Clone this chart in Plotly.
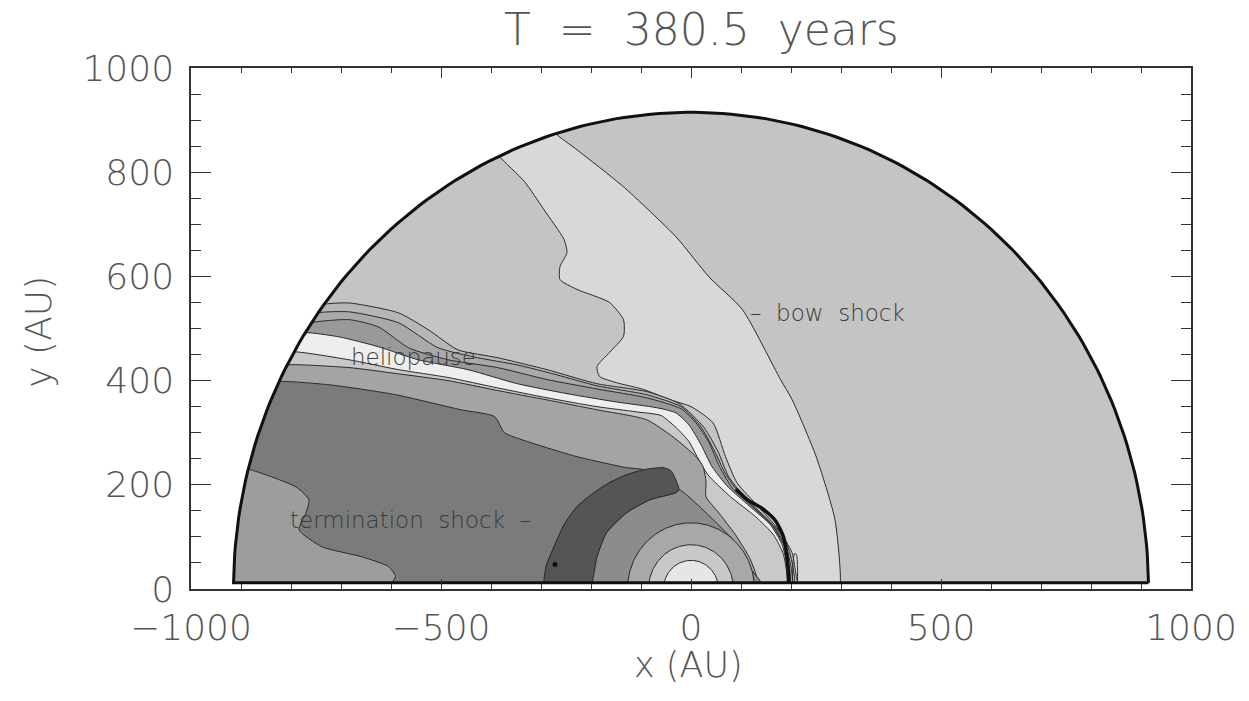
import numpy as np
import plotly.graph_objects as go

# ---------------- data (AU) ----------------
R_OUT = 915          # outer radius of the computational domain
Y_BASE = 12          # lowest grid row

# bow shock (bottom -> top)
bow_x = [298, 288, 250, 202, 179, 103, 36, -30, -135, -228, -268]
bow_y = [Y_BASE, 133, 255, 364, 402, 536, 599, 676, 772, 843, 872]

# wavy contour left of the bow shock, continuing along the outer heliopause edge
wavy_x = [-381, -333, -294, -254, -248, -262, -262, -228, -163, -135, -135, -163, -188, -183, -149, -95, -44,
          0, 44, 69, 92, 135, 175, 202, 214]
wavy_y = [828, 782, 728, 671, 646, 619, 594, 575, 550, 517, 485, 454, 427, 408, 396, 383, 364,
          350, 319, 254, 204, 158, 114, 70, Y_BASE]

# heliopause bundle contours (from outer circle to the bottom row)
c1_x = [-734, -684, -585, -526, -466, -387, -288, -188, -89, -24, 26, 54, 74, 104, 141, 177, 196, 206]
c1_y = [546, 549, 530, 498, 459, 444, 421, 394, 379, 356, 310, 264, 218, 179, 145, 110, 75, Y_BASE]
c2_x = [-746, -684, -585, -506, -427, -347, -268, -188, -89, -20, 20, 46, 69, 96, 133, 169, 191, 202]
c2_y = [530, 532, 511, 463, 444, 430, 411, 390, 373, 350, 311, 267, 221, 185, 150, 116, 79, Y_BASE]
c3_x = [-759, -684, -625, -565, -486, -387, -288, -188, -89, -20, 10, 36, 57, 84, 123, 163, 187, 198]
c3_y = [511, 517, 503, 463, 440, 425, 402, 384, 367, 346, 319, 281, 235, 192, 158, 121, 82, Y_BASE]
c4_x = [-772, -704, -625, -546, -446, -347, -248, -149, -69, -30, -4, 20, 42, 72, 117, 159, 183, 194]
c4_y = [492, 484, 465, 440, 421, 394, 375, 359, 348, 338, 315, 277, 235, 198, 159, 123, 83, Y_BASE]
c5_x = [-794, -684, -585, -486, -387, -288, -188, -109, -60, -30, -4, 10, 34, 79, 129, 165, 185, 191]
c5_y = [455, 440, 421, 406, 386, 367, 350, 340, 333, 310, 283, 258, 219, 177, 139, 104, 66, Y_BASE]
c6_x = [-808, -684, -585, -486, -387, -288, -188, -89, -36, 10, 24, 30, 30, 54, 89, 119, 133]
c6_y = [430, 425, 413, 400, 381, 363, 344, 325, 292, 254, 235, 206, 177, 148, 104, 56, Y_BASE]

# supersonic wind region: top contour then outer edge of the crescent
c7_x = [-824, -724, -591, -460, -393, -373, -327, -228, -129, -95,
        -129, -163, -194, -228, -254, -274, -290, -294]
c7_y = [398, 392, 373, 344, 331, 300, 283, 254, 233, 229,
        219, 204, 185, 158, 123, 81, 43, Y_BASE]

# lighter lobe near the lower-left edge
lobe_x = [-883, -790, -764, -770, -784, -738, -659, -605, -591, -599]
lobe_y = [229, 196, 171, 146, 114, 81, 62, 43, 24, Y_BASE]

# dark crescent (termination shock)
cres_x = [-294, -290, -274, -254, -228, -194, -163, -129, -95, -56, -40, -24, -30, -83, -129, -169, -188, -198]
cres_y = [Y_BASE, 43, 81, 123, 158, 185, 204, 219, 229, 233, 227, 191, 185, 171, 146, 108, 62, Y_BASE]

# region between crescent and the inner rings (with spike)
mid_x = [-198, -188, -169, -129, -83, -30, -24, 83, 55, 100, 140]
mid_y = [Y_BASE, 62, 108, 146, 171, 185, 191, 95, 112, 60, Y_BASE]

# inner concentric rings (radius)
ring_r = [127, 85, 55]

# thick heliopause line
hp_x = [90, 112, 143, 169, 185, 192, 196]
hp_y = [192, 172, 154, 131, 100, 62, Y_BASE]

# small closed contour just outside the heliopause near the axis
loop_x = [203, 204, 207, 211, 213, 213]
loop_y = [Y_BASE, 50, 68, 66, 45, Y_BASE]

# fill levels
col_outer = "#c4c4c4"
col_bow = "#d8d8d8"
band_cols = ["#b6b6b6", "#a9a9a9", "#999999", "#eeeeee", "#c9c9c9", "#a4a4a4"]
col_dark = "#7b7b7b"
col_lobe = "#9d9d9d"
col_mid = "#8c8c8c"
col_cres = "#555555"
ring_cols = ["#a8a8a8", "#c8c8c8", "#e6e6e6"]

LINE = "#2a2a2a"
SMOOTH = 0.6

# ---------------- helpers ----------------
th_left = np.pi - np.arcsin(Y_BASE / R_OUT)
th_right = np.arcsin(Y_BASE / R_OUT)


def arc(r, t0, t1, n=160):
    t = np.linspace(t0, t1, n)
    return list(r * np.cos(t)), list(r * np.sin(t))


def bottom(x0, x1, n=40):
    """straight segment along the bottom grid row (geometry, keeps the spline flat)"""
    xs = list(np.linspace(x0, x1, n))[1:]
    return xs, [Y_BASE] * len(xs)


def edge_region(cx, cy):
    """region bounded by outer circle (left), a contour, and the bottom row"""
    t0 = np.arctan2(cy[0], cx[0])
    ax, ay = arc(R_OUT, th_left, t0)
    bx, by = bottom(cx[-1], ax[0])
    return ax + list(cx[1:]) + bx, ay + list(cy[1:]) + by


def closed(cx, cy):
    bx, by = bottom(cx[-1], cx[0])
    return list(cx) + bx, list(cy) + by


fig = go.Figure()


def add_poly(xs, ys, fill, lw=1.0, smooth=True):
    fig.add_trace(go.Scatter(x=xs, y=ys, mode="lines", fill="toself", fillcolor=fill,
                             line=dict(color=LINE, width=lw, shape="spline" if smooth else "linear",
                                       smoothing=SMOOTH),
                             hoverinfo="skip", showlegend=False))


# domain
ox, oy = arc(R_OUT, th_right, th_left)
add_poly(ox + [ox[0]], oy + [oy[0]], col_outer, smooth=False)

# bow shock region
tb = np.arctan2(bow_y[-1], bow_x[-1])
tw = np.arctan2(wavy_y[0], wavy_x[0])
ax_, ay_ = arc(R_OUT, tb, tw, 30)
bx_, by_ = bottom(wavy_x[-1], bow_x[0], 20)
add_poly(bow_x + ax_ + wavy_x + bx_, bow_y + ay_ + wavy_y + by_, col_bow)

# heliopause bundle & heliosheath
for (cx, cy), col in zip([(c1_x, c1_y), (c2_x, c2_y), (c3_x, c3_y), (c4_x, c4_y), (c5_x, c5_y), (c6_x, c6_y)],
                         band_cols):
    xs, ys = edge_region(cx, cy)
    add_poly(xs, ys, col)

# supersonic region
xs, ys = edge_region(c7_x, c7_y)
add_poly(xs, ys, col_dark)

# lobe
xs, ys = edge_region(lobe_x, lobe_y)
add_poly(xs, ys, col_lobe)

# region inside the crescent
xs, ys = closed(mid_x, mid_y)
add_poly(xs, ys, col_mid)

# crescent
xs, ys = closed(cres_x, cres_y)
add_poly(xs, ys, col_cres)

# rings
for r, col in zip(ring_r, ring_cols):
    t0 = np.arcsin(min(Y_BASE / r, 0.99))
    rx, ry = arc(r, t0, np.pi - t0, 120)
    add_poly(rx + [rx[0]], ry + [ry[0]], col, smooth=False)

# small dark blob in crescent
fig.add_trace(go.Scatter(x=[-272], y=[47], mode="markers",
                         marker=dict(color="#111111", size=5, symbol="circle"),
                         hoverinfo="skip", showlegend=False))

# thick heliopause line
fig.add_trace(go.Scatter(x=hp_x, y=hp_y, mode="lines",
                         line=dict(color="#111111", width=3.5, shape="spline", smoothing=SMOOTH),
                         hoverinfo="skip", showlegend=False))

# small loop
fig.add_trace(go.Scatter(x=loop_x, y=loop_y, mode="lines",
                         line=dict(color=LINE, width=1, shape="spline", smoothing=SMOOTH),
                         hoverinfo="skip", showlegend=False))

# outer boundary
fig.add_trace(go.Scatter(x=ox + [ox[0]], y=oy + [oy[0]], mode="lines",
                         line=dict(color="#111111", width=3), hoverinfo="skip", showlegend=False))

FONT = "DejaVu Sans ExtraLight, DejaVu Sans"
TXT = "#555555"
LBL = "#3a3a3a"

fig.add_annotation(x=113, y=530, text="–  bow  shock", showarrow=False, xanchor="left", yanchor="middle",
                   font=dict(family=FONT, size=23, color=LBL, weight=200))
fig.add_annotation(x=-684, y=446, text="heliopause", showarrow=False, xanchor="left", yanchor="middle",
                   font=dict(family=FONT, size=23, color=LBL, weight=200))
fig.add_annotation(x=-807, y=133, text="termination  shock  –", showarrow=False, xanchor="left",
                   yanchor="middle", font=dict(family=FONT, size=23, color=LBL, weight=200))

fig.add_annotation(x=0.51, y=1.073, xref="paper", yref="paper", text="T  =  380.5  years", showarrow=False,
                   xanchor="center", yanchor="middle", font=dict(family=FONT, size=44, color=TXT, weight=200))
fig.add_annotation(x=0.497, y=-0.146, xref="paper", yref="paper", text="x (AU)", showarrow=False,
                   xanchor="center", yanchor="middle", font=dict(family=FONT, size=35, color=TXT, weight=200))
fig.add_annotation(x=-0.152, y=0.494, xref="paper", yref="paper", text="y (AU)", showarrow=False,
                   textangle=-90, xanchor="center", yanchor="middle",
                   font=dict(family=FONT, size=36, color=TXT, weight=200))

fig.update_layout(
    width=1249, height=701,
    margin=dict(l=191, r=50, t=68, b=112),
    paper_bgcolor="white", plot_bgcolor="white",
    showlegend=False,
    xaxis=dict(range=[-1000, 1000], tickvals=[-1000, -500, 0, 500, 1000], showgrid=False, zeroline=False,
               showline=True, linecolor="#333333", linewidth=1.5, mirror="ticks", ticks="inside", ticklen=10,
               tickwidth=1.2, tickcolor="#333333",
               tickfont=dict(family=FONT, size=36, color=TXT, weight=200),
               ticklabelstandoff=6,
               minor=dict(dtick=100, ticks="inside", ticklen=5, tickcolor="#333333", tickwidth=1)),
    yaxis=dict(range=[0, 1000], tickvals=[0, 200, 400, 600, 800, 1000], showgrid=False, zeroline=False,
               showline=True, linecolor="#333333", linewidth=1.5, mirror="ticks", ticks="inside", ticklen=20,
               tickwidth=1.2, tickcolor="#333333",
               tickfont=dict(family=FONT, size=36, color=TXT, weight=200),
               ticklabelstandoff=8,
               minor=dict(dtick=50, ticks="inside", ticklen=10, tickcolor="#333333", tickwidth=1)),
)

fig.write_html("out.html")
